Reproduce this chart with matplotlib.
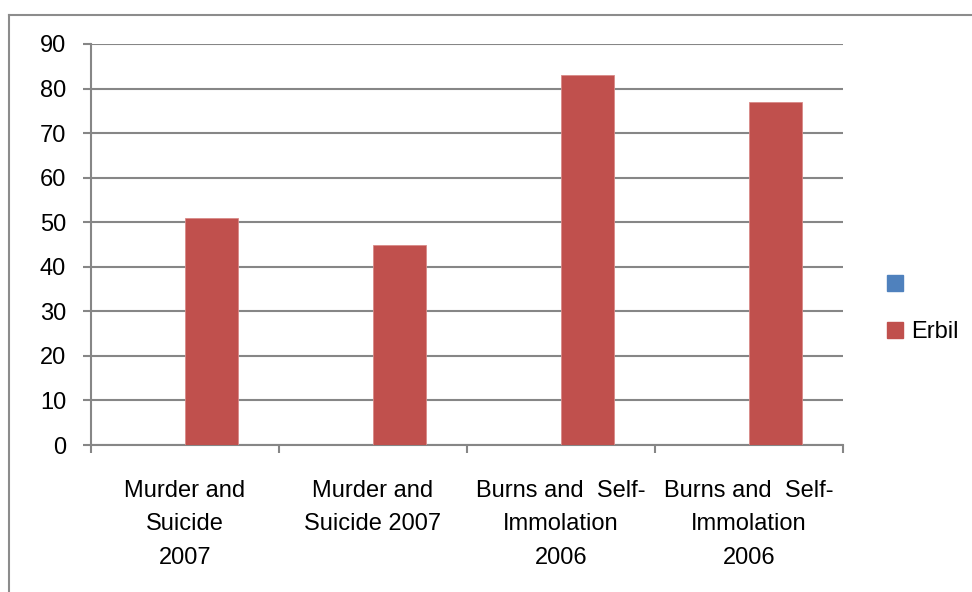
import numpy as np
import matplotlib
matplotlib.use("Agg")
import matplotlib.pyplot as plt
from matplotlib.patches import Patch
from matplotlib.lines import Line2D

# chart data
categories = [
    "Murder and\nSuicide\n2007",
    "Murder and\nSuicide 2007",
    "Burns and  Self-\nImmolation\n2006",
    "Burns and  Self-\nImmolation\n2006",
]
blank_series = [0, 0, 0, 0]
erbil_values = [51, 45, 83, 77]
y_ticks = [0, 10, 20, 30, 40, 50, 60, 70, 80, 90]

plt.rcParams["font.family"] = ["Liberation Sans", "DejaVu Sans"]

W, H = 972, 592
fig = plt.figure(figsize=(W / 100, H / 100), dpi=100)
ax = fig.add_axes([91 / W, 1 - 445 / H, (843 - 91) / W, (445 - 44) / H])

gray = "#868686"
blue = "#4f81bd"
red = "#c0504d"
bw = 0.281
fs = 17

x = np.arange(len(categories))
ax.bar(x - bw / 2, blank_series, bw, color=blue, linewidth=0, zorder=3)
ax.bar(x + bw / 2, erbil_values, bw, color=red, edgecolor="#d98a88",
       linewidth=0.6, zorder=3)

ax.set_xlim(-0.5, len(categories) - 0.5)
ax.set_ylim(0, 90)
ax.set_yticks(y_ticks)
ax.yaxis.grid(True, color=gray, linewidth=1.5, zorder=0)

ax.set_xticks(x)
ax.set_xticklabels(categories, fontsize=fs, linespacing=1.68)
ax.set_xticks(np.arange(len(categories) + 1) - 0.5, minor=True)
ax.tick_params(axis="x", which="major", length=0, pad=25)
ax.tick_params(axis="x", which="minor", length=6, width=1.5, color=gray)
ax.tick_params(axis="y", length=6, width=1.5, color=gray, labelsize=fs, pad=12)

for s in ["top", "right"]:
    ax.spines[s].set_visible(False)
for s in ["left", "bottom"]:
    ax.spines[s].set_color(gray)
    ax.spines[s].set_linewidth(1.5)

# legend on the right
handles = [Patch(color=blue), Patch(color=red)]
fig.legend(handles, ["", "Erbil"], loc="upper left",
           bbox_to_anchor=(866 / W, 1 - 253 / H), frameon=False,
           fontsize=fs, handlelength=0.65, handleheight=0.65,
           handletextpad=0.35, labelspacing=1.05)

# chart area border (top and left edges visible)
fig.add_artist(Line2D([9 / W, 1], [1 - 15 / H, 1 - 15 / H],
                      transform=fig.transFigure, color="#8c8c8c", lw=1.5))
fig.add_artist(Line2D([9 / W, 9 / W], [0, 1 - 15 / H],
                      transform=fig.transFigure, color="#8c8c8c", lw=1.5))

fig.savefig("out.png", dpi=100, facecolor="white")
